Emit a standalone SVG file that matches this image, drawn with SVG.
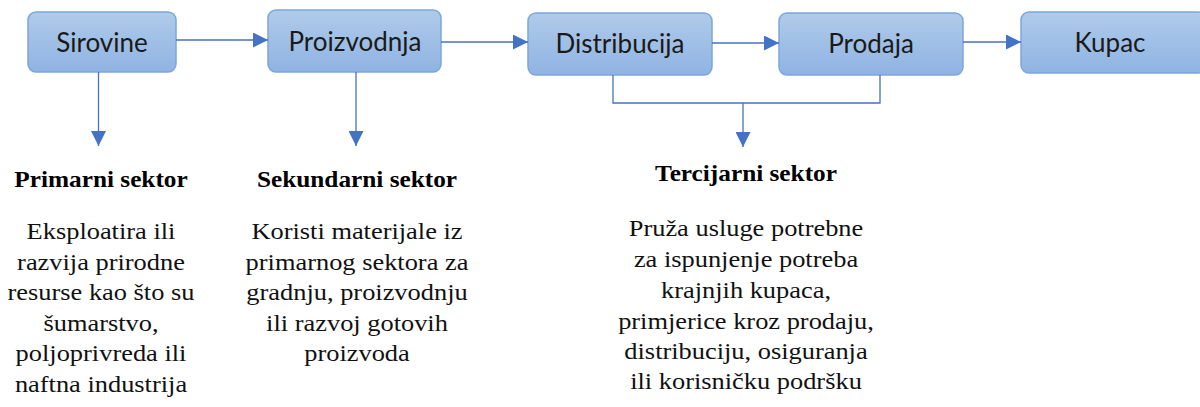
<svg xmlns="http://www.w3.org/2000/svg" width="1200" height="407" viewBox="0 0 1200 407">
<defs>
<linearGradient id="g" x1="0" y1="0" x2="0" y2="1">
<stop offset="0" stop-color="#b0cbea"/>
<stop offset="1" stop-color="#8fb3e2"/>
</linearGradient>
<marker id="ah" viewBox="0 0 10 10" refX="10" refY="5" markerWidth="15" markerHeight="15" markerUnits="userSpaceOnUse" orient="auto">
<path d="M0,0 L10,5 L0,10 Z" fill="#4472c4"/>
</marker>
</defs>
<style>
.box{fill:url(#g);stroke:#7ea6da;stroke-width:1.5}
.bt{font-family:Lato,"Open Sans",sans-serif;font-size:26px;fill:#1a1a1a;text-anchor:middle}
.c{fill:none;stroke:#4472c4;stroke-width:1.3}
.h{font-family:"Liberation Serif",serif;font-weight:bold;font-size:23px;fill:#000;text-anchor:middle}
.t{font-family:"Liberation Serif",serif;font-size:24px;fill:#111;text-anchor:middle}
</style>
<g id="sirovine"><rect class="box" x="28" y="12" width="148" height="60" rx="8"/><text class="bt" x="102" y="52">Sirovine</text></g>
<g id="proizvodnja"><rect class="box" x="268" y="10" width="173" height="62" rx="8"/><text class="bt" x="355" y="51">Proizvodnja</text></g>
<g id="distribucija"><rect class="box" x="528" y="13" width="184" height="62" rx="8"/><text class="bt" x="620" y="53">Distribucija</text></g>
<g id="prodaja"><rect class="box" x="779" y="13" width="184" height="62" rx="8"/><text class="bt" x="871" y="53">Prodaja</text></g>
<g id="kupac"><rect class="box" x="1021" y="12" width="185" height="61" rx="8"/><text class="bt" x="1110" y="52">Kupac</text></g>
<g id="connectors">
<line class="c" x1="176" y1="40" x2="268" y2="40" marker-end="url(#ah)"/>
<line class="c" x1="441" y1="42" x2="528" y2="42" marker-end="url(#ah)"/>
<line class="c" x1="712" y1="43" x2="779" y2="43" marker-end="url(#ah)"/>
<line class="c" x1="963" y1="42" x2="1021" y2="42" marker-end="url(#ah)"/>
<line class="c" x1="98.5" y1="72" x2="98.5" y2="146" marker-end="url(#ah)"/>
<line class="c" x1="356" y1="72" x2="356" y2="146" marker-end="url(#ah)"/>
<polyline class="c" points="613,75 613,103 880,103 880,75"/>
<line class="c" x1="743" y1="103" x2="743" y2="147" marker-end="url(#ah)"/>
</g>
<g id="primarni" transform="translate(101 0) scale(1.1 1)">
<text class="h" x="0" y="187">Primarni sektor</text>
<text class="t"><tspan x="0" y="239">Eksploatira ili</tspan><tspan x="0" y="270">razvija prirodne</tspan><tspan x="0" y="300">resurse kao što su</tspan><tspan x="0" y="331">šumarstvo,</tspan><tspan x="0" y="361">poljoprivreda ili</tspan><tspan x="0" y="392">naftna industrija</tspan></text>
</g>
<g id="sekundarni" transform="translate(357 0) scale(1.1 1)">
<text class="h" x="0" y="187">Sekundarni sektor</text>
<text class="t"><tspan x="0" y="239">Koristi materijale iz</tspan><tspan x="0" y="270">primarnog sektora za</tspan><tspan x="0" y="300">gradnju, proizvodnju</tspan><tspan x="0" y="331">ili razvoj gotovih</tspan><tspan x="0" y="361">proizvoda</tspan></text>
</g>
<g id="tercijarni" transform="translate(746 0) scale(1.1 1)">
<text class="h" x="0" y="181">Tercijarni sektor</text>
<text class="t"><tspan x="0" y="236">Pruža usluge potrebne</tspan><tspan x="0" y="267">za ispunjenje potreba</tspan><tspan x="0" y="298">krajnjih kupaca,</tspan><tspan x="0" y="329">primjerice kroz prodaju,</tspan><tspan x="0" y="359">distribuciju, osiguranja</tspan><tspan x="0" y="389">ili korisničku podršku</tspan></text>
</g>
</svg>
